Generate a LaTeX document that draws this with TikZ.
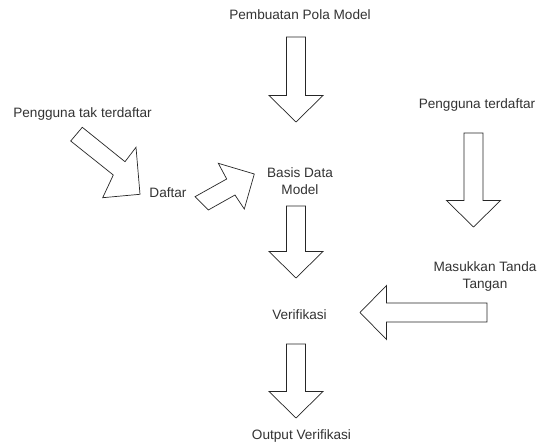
\documentclass[tikz,border=0pt]{standalone}
\usepackage{fontspec}
\setmainfont{Liberation Sans}

% block arrow: tail point, direction, length
\newcommand{\fatarrow}[3]{%
  \draw[blockarrow, shift={#1}, rotate=#2]
    (0,-9.5) -- ({#3-26.5},-9.5) -- ({#3-26.5},-27) -- (#3,0)
    -- ({#3-26.5},27) -- ({#3-26.5},9.5) -- (0,9.5) -- cycle;}

\begin{document}
\begin{tikzpicture}[
        x=1pt, y=-1pt,
        txt/.style={font=\fontsize{13.6}{17}\selectfont, text=black!80, align=center, inner sep=0pt},
        blockarrow/.style={draw=black!85, fill=white, line width=0.7pt, line join=miter},
    ]
    \path[use as bounding box, fill=white] (0,0) rectangle (542,444);

    \node[txt] (pola) at (300,15) {Pembuatan Pola Model};
    \node[txt] (tak) at (82.5,114) {Pengguna tak terdaftar};
    \node[txt] (terdaftar) at (477,105) {Pengguna terdaftar};
    \node[txt] (daftar) at (168,193) {Daftar};
    \node[txt] (basis) at (300,181) {Basis Data\\Model};
    \node[txt] (masuk) at (485,276) {Masukkan Tanda\\Tangan};
    \node[txt] (verif) at (299.5,315) {Verifikasi};
    \node[txt] (output) at (301.5,436) {Output Verifikasi};

    % straight arrows
    \fatarrow{(296,37)}{-90}{85}
    \fatarrow{(296,206)}{-90}{72}
    \fatarrow{(296,344)}{-90}{74}
    \fatarrow{(473.5,133)}{-90}{94}
    \fatarrow{(487,312.5)}{180}{127}

    % slanted arrows
    \draw[blockarrow] (82.3,127.3) -- (125,161.7) -- (136,147.3) -- (140,194.3)
        -- (102.7,197.7) -- (113.3,175) -- (70.7,141) -- cycle;
    \draw[blockarrow] (195,196.7) -- (226.7,179) -- (218.3,163.3) -- (254.3,174)
        -- (244.3,209) -- (235,195) -- (208.3,210) -- cycle;
\end{tikzpicture}
\end{document}
